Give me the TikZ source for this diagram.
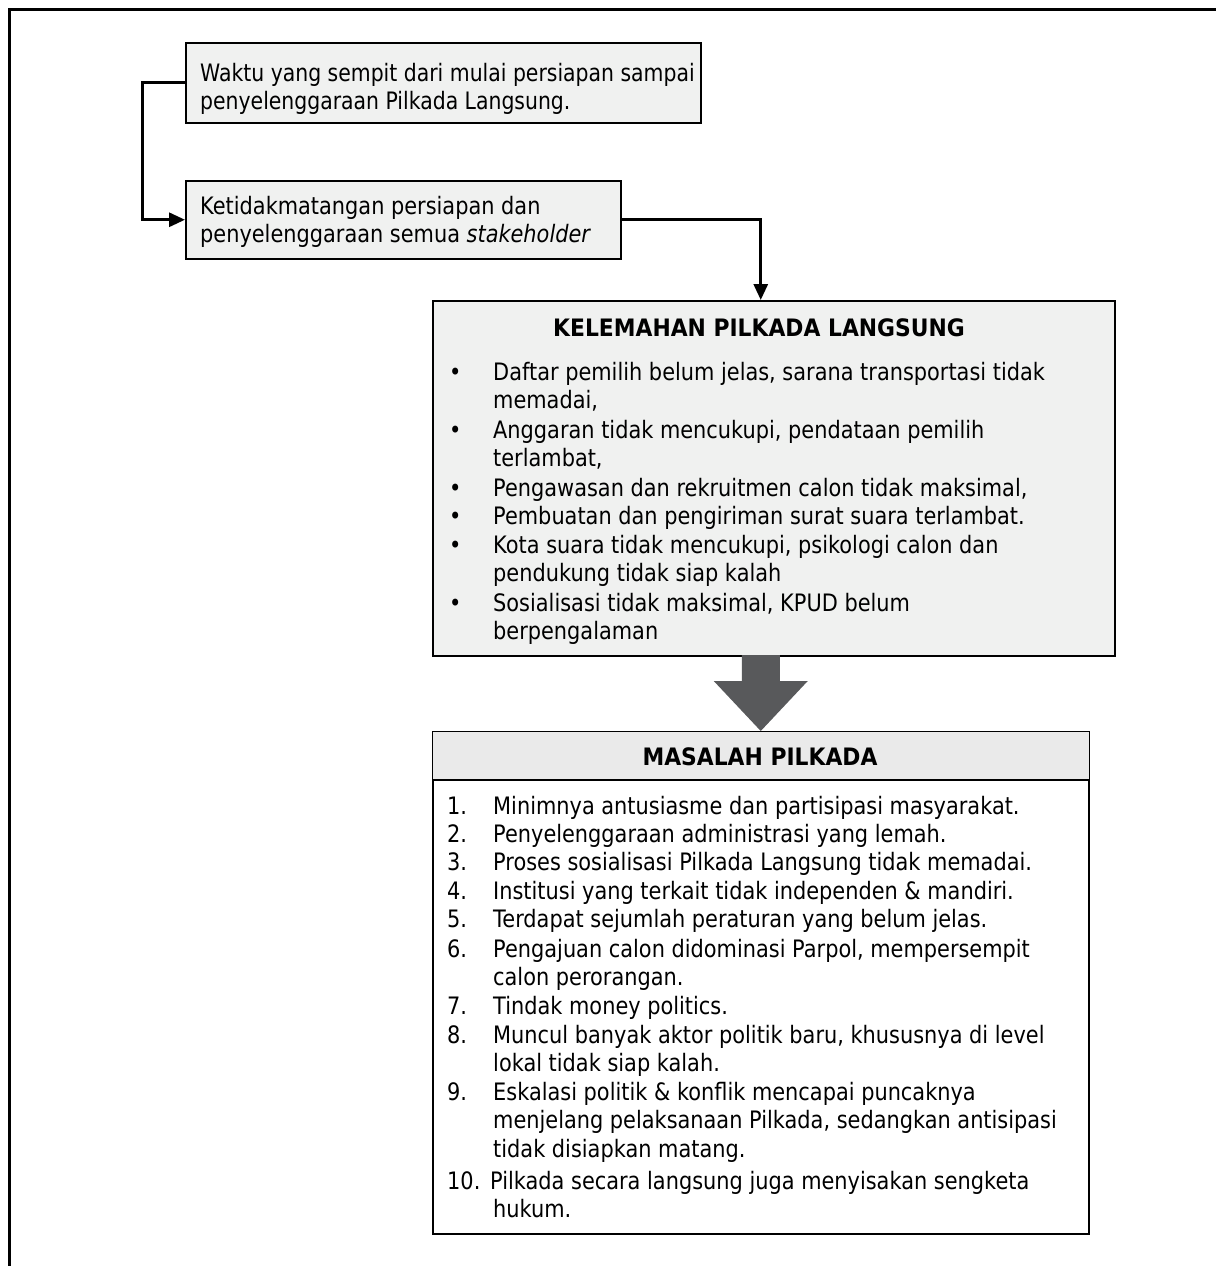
\documentclass[tikz,border=0pt]{standalone}
\usepackage{fontspec}
\setmainfont{DejaVu Sans}[FakeStretch=0.87]
\newfontfamily\narrowfont{DejaVu Sans}[FakeStretch=0.85]
\newfontfamily\titlefont{DejaVu Sans}[FakeStretch=0.91]
\usetikzlibrary{arrows.meta,shadows}
\definecolor{boxfill}{HTML}{F0F1F0}
\definecolor{headfill}{HTML}{EAEAEA}
\definecolor{bigarrow}{HTML}{58595B}
\definecolor{shadowc}{HTML}{A0A0A0}
\newcommand{\ml}[1]{\begin{tabular}[t]{@{}l@{}}#1\end{tabular}}
\begin{document}
\begin{tikzpicture}[x=1pt,y=-1pt,
  box/.style={draw=black, line width=1.5pt, fill=boxfill, inner sep=0pt, anchor=north west,
    drop shadow={shadow xshift=1.5pt, shadow yshift=-1.5pt, fill=shadowc, opacity=1}},
  txt/.style={inner sep=0pt, anchor=base west, font=\fontsize{24}{28.5}\selectfont},
  ttl/.style={inner sep=0pt, anchor=base, font=\fontsize{24}{28.5}\selectfont\titlefont\bfseries},
  conn/.style={line width=3pt, -{Triangle[length=16pt,width=14pt]}},
  ]
\useasboundingbox (0,0) rectangle (1216,1266);
\fill[white] (0,0) rectangle (1216,1266);
\draw[line width=3pt] (9,1266) -- (9,9.5) -- (1216,9.5);

% boxes
\node[box, minimum width=515pt, minimum height=80pt] (b1) at (185,42) {};
\node[box, minimum width=435pt, minimum height=78pt] (b2) at (185,180) {};
\node[box, minimum width=682pt, minimum height=355pt] (b3) at (432,300) {};
\node[box, fill=white, minimum width=656pt, minimum height=502pt] (b4) at (432,731) {};
\fill[headfill] ([xshift=0.75pt,yshift=-0.75pt]b4.north west) rectangle ([xshift=-0.75pt]b4.north east |- 0,780);
\draw[line width=1.5pt] (b4.west |- 0,780) -- (b4.east |- 0,780);
\coordinate (b3in) at ([xshift=-13pt]b3.north);

% texts box 1,2
\node[txt, font=\fontsize{24}{28.5}\selectfont\narrowfont] (t1) at (200,81) {\ml{Waktu yang sempit dari mulai persiapan sampai\\penyelenggaraan Pilkada Langsung.}};
\node[txt] (t2) at (200,214) {\ml{Ketidakmatangan persiapan dan\\penyelenggaraan semua \textit{stakeholder}}};

% connectors
\draw[conn] (b1.west) -- ++(-43,0) |- (b2.west);
\draw[conn] (b2.east) -| (b3in);
\fill[bigarrow] (b4.north) -- ++(-47,-50) -- ++(28,0) -- ++(0,-26) -- ++(38,0) -- ++(0,26) -- ++(28,0) -- cycle;

% box 3
\node[ttl] (h3) at (759,336) {KELEMAHAN PILKADA LANGSUNG};
\node[txt] (d1) at (449,380) {•};
\node[txt] (k1) at (493,380) {\ml{Daftar pemilih belum jelas, sarana transportasi tidak\\memadai,}};
\node[txt] (d2) at (449,438) {•};
\node[txt] (k2) at (493,438) {\ml{Anggaran tidak mencukupi, pendataan pemilih\\terlambat,}};
\node[txt] (d3) at (449,496) {•};
\node[txt] (k3) at (493,496) {Pengawasan dan rekruitmen calon tidak maksimal,};
\node[txt] (d4) at (449,524) {•};
\node[txt] (k4) at (493,524) {Pembuatan dan pengiriman surat suara terlambat.};
\node[txt] (d5) at (449,553) {•};
\node[txt] (k5) at (493,553) {\ml{Kota suara tidak mencukupi, psikologi calon dan\\pendukung tidak siap kalah}};
\node[txt] (d6) at (449,611) {•};
\node[txt] (k6) at (493,611) {\ml{Sosialisasi tidak maksimal, KPUD belum\\berpengalaman}};

% box 4
\node[ttl] (h4) at (760,765) {MASALAH PILKADA};
\node[txt] (n1) at (447,814) {1.};
\node[txt] (m1) at (493,814) {Minimnya antusiasme dan partisipasi masyarakat.};
\node[txt] (n2) at (447,842) {2.};
\node[txt] (m2) at (493,842) {Penyelenggaraan administrasi yang lemah.};
\node[txt] (n3) at (447,870) {3.};
\node[txt] (m3) at (493,870) {Proses sosialisasi Pilkada Langsung tidak memadai.};
\node[txt] (n4) at (447,899) {4.};
\node[txt] (m4) at (493,899) {Institusi yang terkait tidak independen \& mandiri.};
\node[txt] (n5) at (447,927) {5.};
\node[txt] (m5) at (493,927) {Terdapat sejumlah peraturan yang belum jelas.};
\node[txt] (n6) at (447,957) {6.};
\node[txt] (m6) at (493,957) {\ml{Pengajuan calon didominasi Parpol, mempersempit\\calon perorangan.}};
\node[txt] (n7) at (447,1014) {7.};
\node[txt] (m7) at (493,1014) {Tindak money politics.};
\node[txt] (n8) at (447,1043) {8.};
\node[txt] (m8) at (493,1043) {\ml{Muncul banyak aktor politik baru, khususnya di level\\lokal tidak siap kalah.}};
\node[txt] (n9) at (447,1100) {9.};
\node[txt] (m9) at (493,1100) {\ml{Eskalasi politik \& konflik mencapai puncaknya\\menjelang pelaksanaan Pilkada, sedangkan antisipasi\\tidak disiapkan matang.}};
\node[txt] (n10) at (447,1189) {10.};
\node[txt] (m10) at (490,1189) {\ml{Pilkada secara langsung juga menyisakan sengketa\\\hspace*{3pt}hukum.}};
\end{tikzpicture}
\end{document}
